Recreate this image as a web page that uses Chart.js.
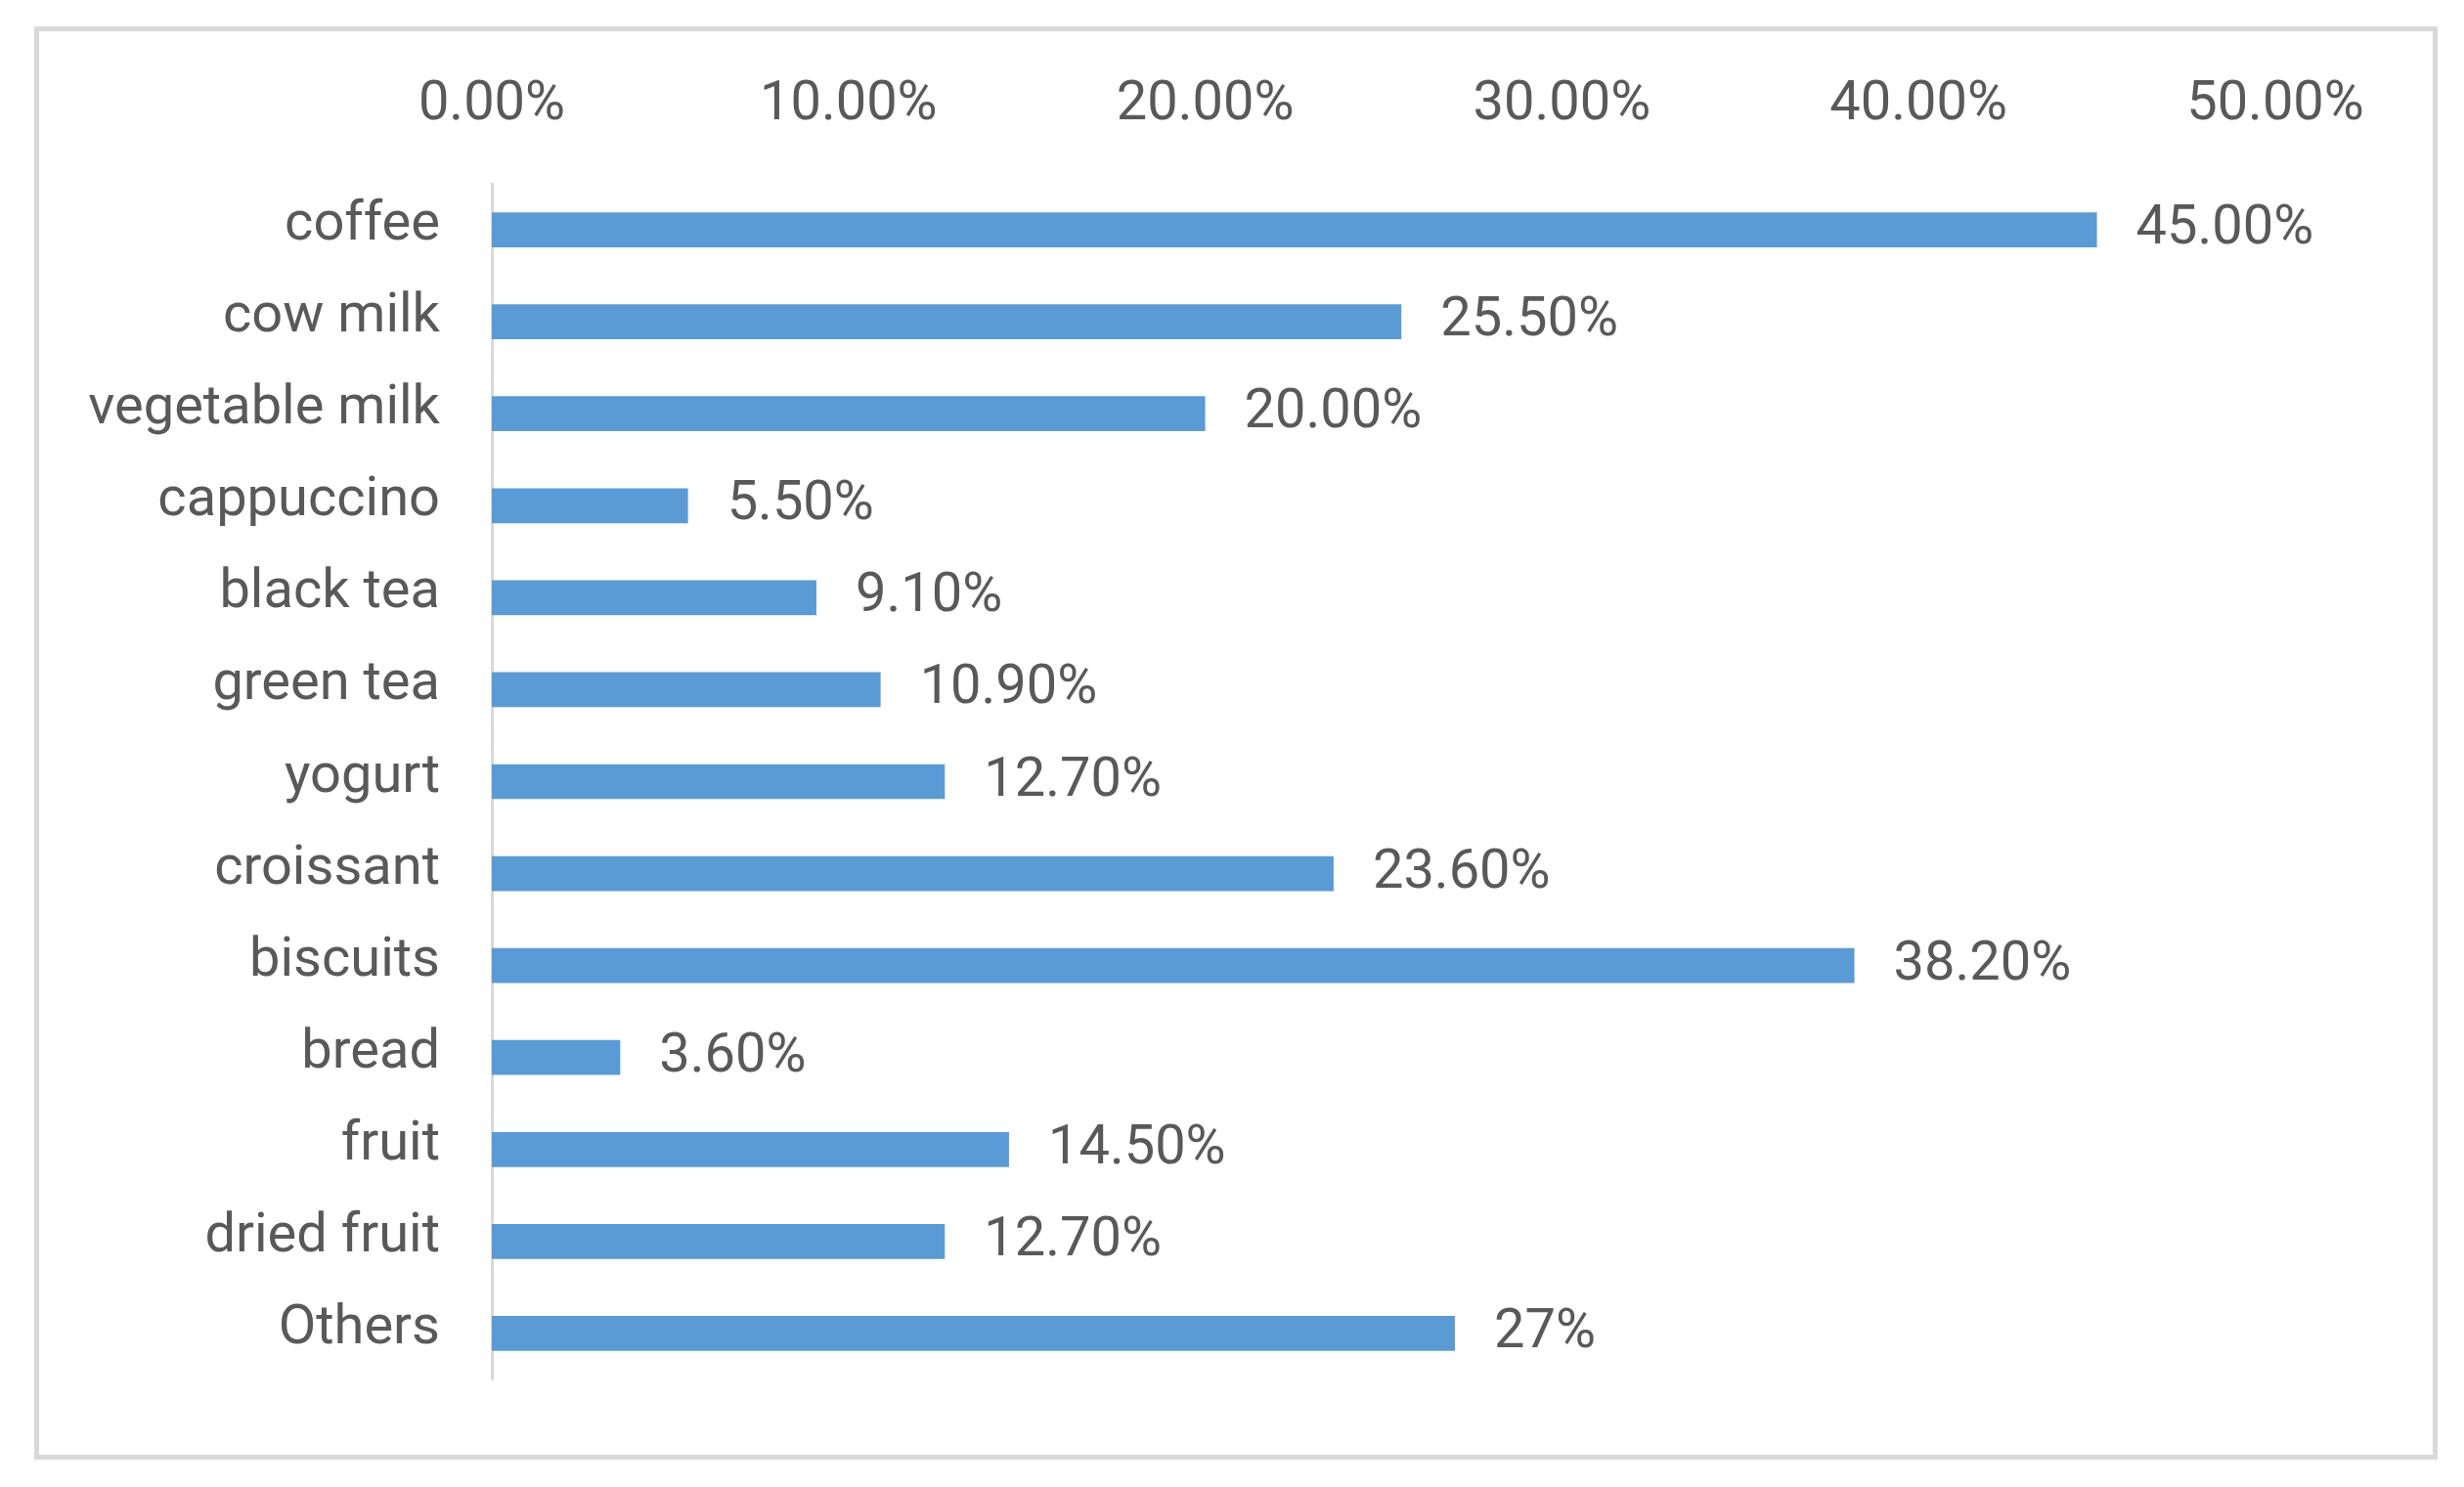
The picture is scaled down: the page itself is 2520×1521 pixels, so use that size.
<!DOCTYPE html>
<html>
<head>
<meta charset="utf-8">
<script src="https://cdn.jsdelivr.net/npm/chart.js@4/dist/chart.umd.min.js"></script>
<style>
  html, body { margin: 0; padding: 0; background: #fff; }
  #wrap { position: relative; width: 2520px; height: 1521px; }
  #frame {
    position: absolute; left: 35px; top: 27px; width: 2448px; height: 1456px;
    border: 5px solid #d9d9d9; pointer-events: none;
  }
  canvas { position: absolute; left: 0; top: 0; }
</style>
</head>
<body>
<div id="wrap">
  <canvas id="foodChart" width="2520" height="1521"></canvas>
  <div id="frame"></div>
</div>
<script>
// breakfast items and share of answers (%)
const categories = ['coffee', 'cow milk', 'vegetable milk', 'cappuccino', 'black tea', 'green tea',
    'yogurt', 'croissant', 'biscuits', 'bread', 'fruit', 'dried fruit', 'Others'];
const shares = [45.0, 25.5, 20.0, 5.5, 9.1, 10.9, 12.7, 23.6, 38.2, 3.6, 14.5, 12.7, 27];
const valueLabels = ['45.00%', '25.50%', '20.00%', '5.50%', '9.10%', '10.90%', '12.70%',
    '23.60%', '38.20%', '3.60%', '14.50%', '12.70%', '27%'];
const tickLabels = ['0.00%', '10.00%', '20.00%', '30.00%', '40.00%', '50.00%'];

const textColor = '#595959';
const barColor = '#5b9bd5';
const fontFamily = 'Roboto, "Liberation Sans", sans-serif';
const fontSize = 56;

// value text just past the end of each bar
const valueLabelPlugin = {
    id: 'valueLabels',
    afterDatasetsDraw(chart) {
        const ctx = chart.ctx;
        const bars = chart.getDatasetMeta(0).data;
        ctx.save();
        ctx.font = `${fontSize}px ${fontFamily}`;
        ctx.fillStyle = textColor;
        ctx.textAlign = 'left';
        ctx.textBaseline = 'middle';
        bars.forEach((bar, i) => {
            ctx.fillText(valueLabels[i], bar.x + 40, bar.y);
        });
        ctx.restore();
    }
};

new Chart(document.getElementById('foodChart'), {
    type: 'bar',
    data: {
        labels: categories,
        datasets: [{
            data: shares,
            backgroundColor: barColor,
            borderWidth: 0,
            barPercentage: 0.38,
            categoryPercentage: 1
        }]
    },
    options: {
        indexAxis: 'y',
        responsive: false,
        animation: false,
        devicePixelRatio: 1,
        layout: { padding: { left: 0, top: 0, right: 193, bottom: 110 } },
        plugins: {
            legend: { display: false },
            tooltip: { enabled: false }
        },
        scales: {
            x: {
                position: 'top',
                min: 0,
                max: 50,
                afterFit: s => { s.height = 188; },
                afterBuildTicks: s => { s.ticks = [0, 10, 20, 30, 40, 50].map(v => ({ value: v })); },
                ticks: {
                    padding: 46,
                    color: textColor,
                    font: { family: fontFamily, size: fontSize },
                    maxRotation: 0,
                    callback: (v, i) => tickLabels[i]
                },
                grid: { display: false, drawTicks: false },
                border: { display: false }
            },
            y: {
                afterFit: s => { s.width = 503; },
                ticks: {
                    padding: 53,
                    labelOffset: -4,
                    color: textColor,
                    font: { family: fontFamily, size: fontSize }
                },
                grid: { display: false, drawTicks: false },
                border: { display: true, color: '#d9d9d9', width: 3 }
            }
        }
    },
    plugins: [valueLabelPlugin]
});
</script>
</body>
</html>
